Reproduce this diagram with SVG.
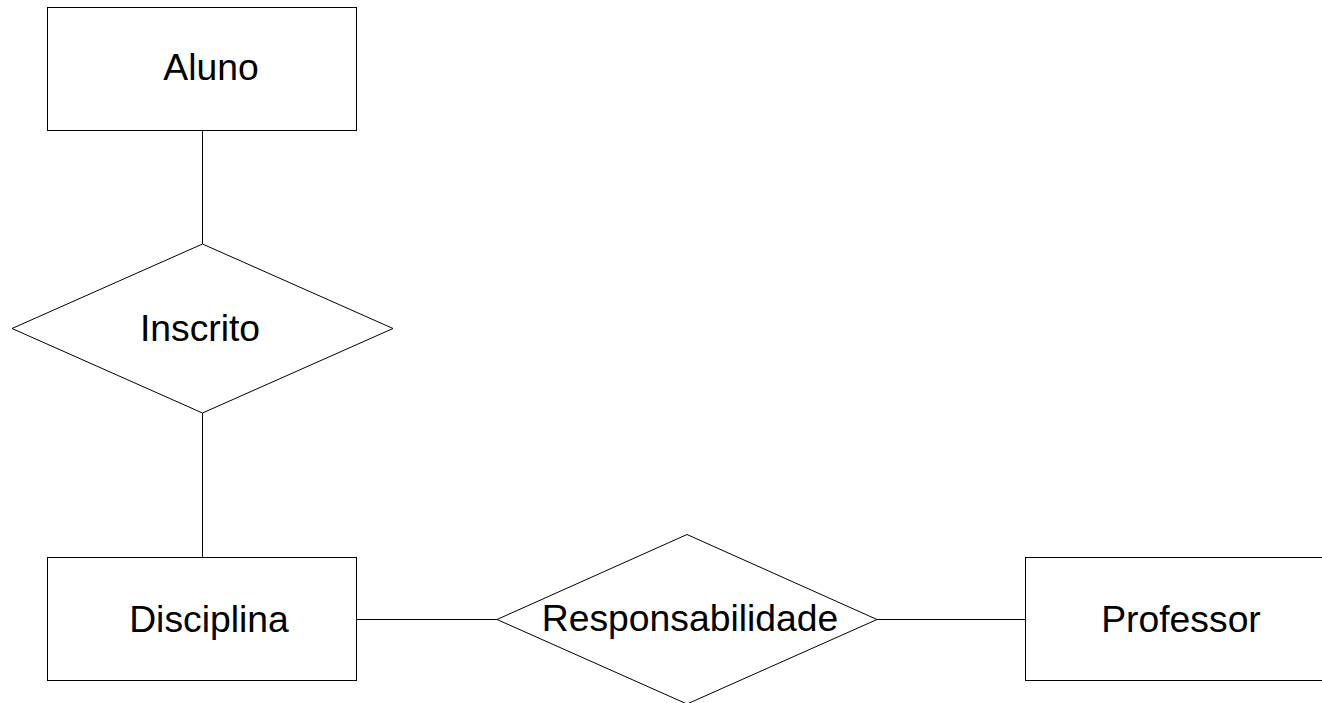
<svg xmlns="http://www.w3.org/2000/svg" width="1322" height="703" viewBox="0 0 1322 703">
  <style>
    .shape { fill: #ffffff; stroke: #000000; stroke-width: 1; }
    .link { fill: none; stroke: #000000; stroke-width: 1; }
    .label { font-family: "Liberation Sans", Arial, sans-serif; font-size: 37.3px; fill: #000000; text-anchor: middle; }
  </style>
  <rect x="0" y="0" width="1322" height="703" fill="#ffffff"/>

  <!-- relationship lines -->
  <g id="connectors">
    <line class="link" x1="202.5" y1="130.5" x2="202.5" y2="244"/>
    <line class="link" x1="202.5" y1="413" x2="202.5" y2="557.5"/>
    <line class="link" x1="356.5" y1="619.5" x2="497" y2="619.5"/>
    <line class="link" x1="877" y1="619.5" x2="1025.5" y2="619.5"/>
  </g>

  <!-- entities -->
  <g id="aluno">
    <rect class="shape" x="47.5" y="7.5" width="309" height="123"/>
    <text class="label" x="211" y="80">Aluno</text>
  </g>
  <g id="disciplina">
    <rect class="shape" x="47.5" y="557.5" width="309" height="123"/>
    <text class="label" x="209" y="632">Disciplina</text>
  </g>
  <g id="professor">
    <rect class="shape" x="1025.5" y="557.5" width="309" height="123"/>
    <text class="label" x="1181" y="632">Professor</text>
  </g>

  <!-- relationships -->
  <g id="inscrito">
    <polygon class="shape" points="202.5,244 393,328.5 202.5,413 12,328.5"/>
    <text class="label" x="200" y="341">Inscrito</text>
  </g>
  <g id="responsabilidade">
    <polygon class="shape" points="687,534.5 877,619.5 687,704 497,619.5"/>
    <text class="label" x="690" y="631">Responsabilidade</text>
  </g>
</svg>
